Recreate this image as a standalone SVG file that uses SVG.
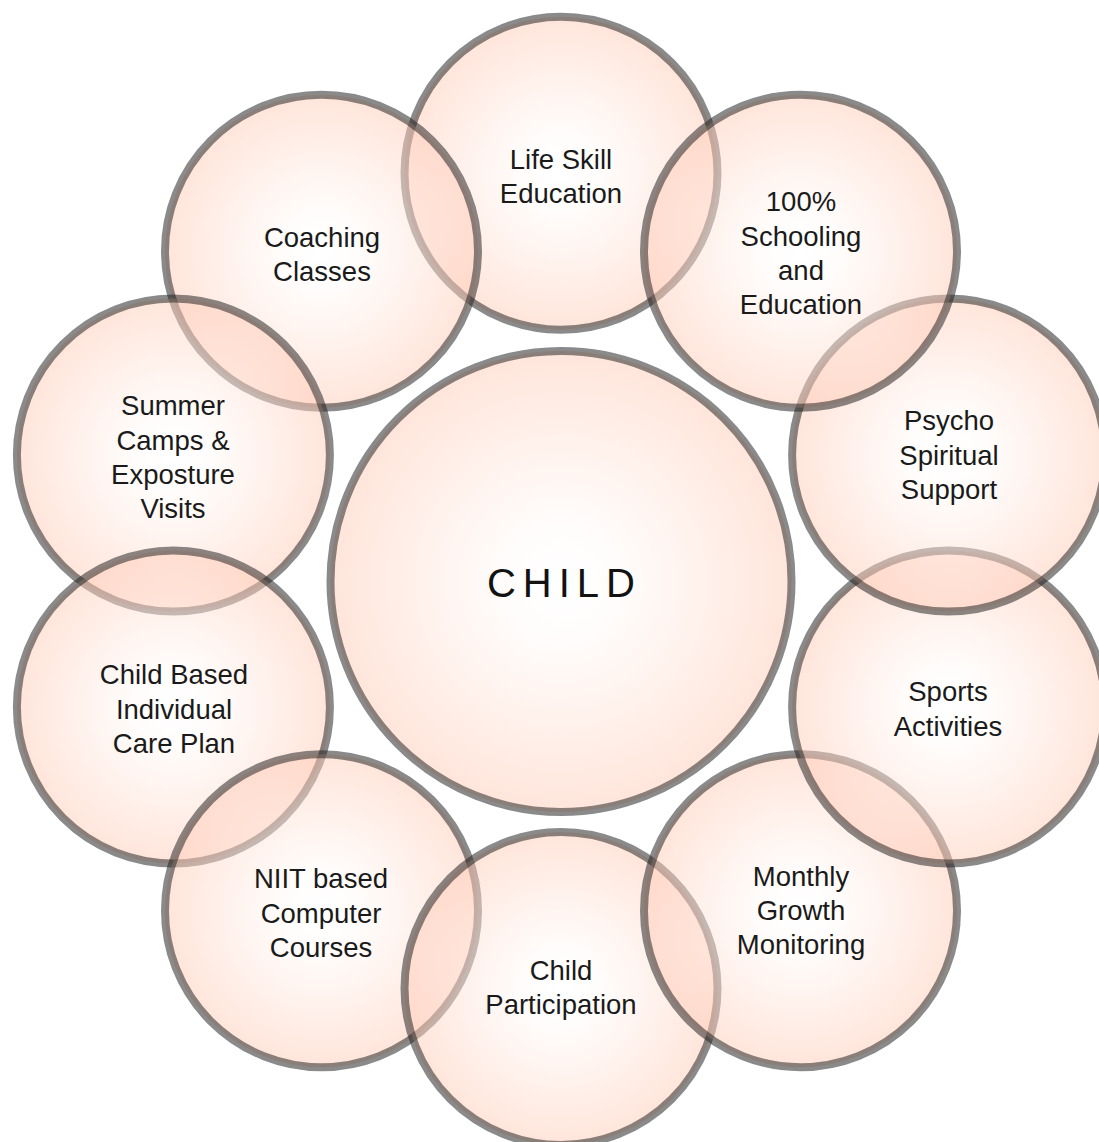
<svg xmlns="http://www.w3.org/2000/svg" width="1099" height="1142" viewBox="0 0 1099 1142">
  <defs>
    <radialGradient id="peach" cx="50%" cy="50%" r="50%">
      <stop offset="0" stop-color="#ffffff"/>
      <stop offset="0.25" stop-color="#fffaf8"/>
      <stop offset="1" stop-color="#ffcbb7"/>
    </radialGradient>
    <style>
      .bubble { fill: url(#peach); fill-opacity: 0.5; stroke: #1e1e1e; stroke-opacity: 0.52; stroke-width: 8; }
      .lbl { font-family: "Liberation Sans", Arial, sans-serif; font-size: 27.5px; fill: #1a1a1a; text-anchor: middle; }
      .core { font-family: "Liberation Sans", Arial, sans-serif; font-size: 40px; fill: #121212; text-anchor: middle; letter-spacing: 7px; }
    </style>
  </defs>
  <rect width="1099" height="1142" fill="#ffffff"/>
  <g id="connectors"/>
  <g id="node-child">
    <circle class="bubble" cx="561" cy="581.5" r="230.5"/>
    <text class="core" x="564.5" y="597">CHILD</text>
  </g>
  <g id="node-life-skill">
    <circle class="bubble" cx="561" cy="173.3" r="156.5"/>
    <text class="lbl" x="561" y="169">Life Skill</text>
    <text class="lbl" x="561" y="203">Education</text>
  </g>
  <g id="node-coaching">
    <circle class="bubble" cx="321.5" cy="251.3" r="156.5"/>
    <text class="lbl" x="322" y="247">Coaching</text>
    <text class="lbl" x="322" y="281">Classes</text>
  </g>
  <g id="node-summer">
    <circle class="bubble" cx="173.4" cy="455.1" r="156.5"/>
    <text class="lbl" x="173" y="415">Summer</text>
    <text class="lbl" x="173" y="450">Camps &amp;</text>
    <text class="lbl" x="173" y="484">Exposture</text>
    <text class="lbl" x="173" y="518">Visits</text>
  </g>
  <g id="node-care-plan">
    <circle class="bubble" cx="173.4" cy="706.9" r="156.5"/>
    <text class="lbl" x="174" y="684">Child Based</text>
    <text class="lbl" x="174" y="719">Individual</text>
    <text class="lbl" x="174" y="753">Care Plan</text>
  </g>
  <g id="node-niit">
    <circle class="bubble" cx="321.5" cy="910.7" r="156.5"/>
    <text class="lbl" x="321" y="888">NIIT based</text>
    <text class="lbl" x="321" y="923">Computer</text>
    <text class="lbl" x="321" y="957">Courses</text>
  </g>
  <g id="node-participation">
    <circle class="bubble" cx="561" cy="988.5" r="156.5"/>
    <text class="lbl" x="561" y="980">Child</text>
    <text class="lbl" x="561" y="1014">Participation</text>
  </g>
  <g id="node-growth">
    <circle class="bubble" cx="800.5" cy="910.7" r="156.5"/>
    <text class="lbl" x="801" y="886">Monthly</text>
    <text class="lbl" x="801" y="920">Growth</text>
    <text class="lbl" x="801" y="954">Monitoring</text>
  </g>
  <g id="node-sports">
    <circle class="bubble" cx="948.6" cy="706.9" r="156.5"/>
    <text class="lbl" x="948" y="701">Sports</text>
    <text class="lbl" x="948" y="736">Activities</text>
  </g>
  <g id="node-psycho">
    <circle class="bubble" cx="948.6" cy="455.1" r="156.5"/>
    <text class="lbl" x="949" y="430">Psycho</text>
    <text class="lbl" x="949" y="465">Spiritual</text>
    <text class="lbl" x="949" y="499">Support</text>
  </g>
  <g id="node-schooling">
    <circle class="bubble" cx="800.5" cy="251.3" r="156.5"/>
    <text class="lbl" x="801" y="211">100%</text>
    <text class="lbl" x="801" y="246">Schooling</text>
    <text class="lbl" x="801" y="280">and</text>
    <text class="lbl" x="801" y="314">Education</text>
  </g>
</svg>
